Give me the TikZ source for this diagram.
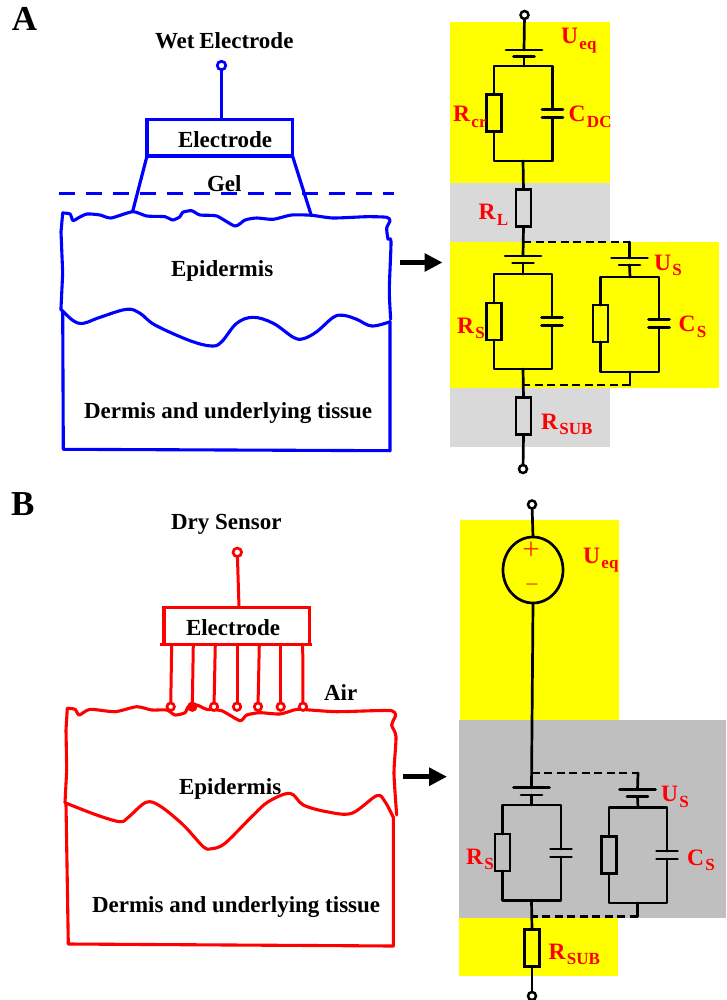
\documentclass[tikz,border=0pt]{standalone}
\usepackage{fontspec}
\setmainfont{Liberation Serif}
\usetikzlibrary{arrows.meta,shapes.geometric}
\definecolor{lgrey}{HTML}{D9D9D9}
\definecolor{mgrey}{HTML}{BFBFBF}
\definecolor{signred}{HTML}{FF3300}
\definecolor{pyellow}{HTML}{FFFF00}
\definecolor{pblue}{HTML}{0000FF}
\definecolor{pred}{HTML}{FF0000}
\tikzset{
  wire/.style={draw=black,line width=2.7pt,line join=round,line cap=round},
  dashwire/.style={draw=black,line width=2.7pt,dash pattern=on 8pt off 4.5pt},
  resbox/.style={draw=black,line width=2.7pt,rectangle,minimum width=15pt,minimum height=37pt,inner sep=0pt,outer sep=0pt},
  blackterm/.style={draw=black,fill=white,line width=2.5pt,circle,minimum size=8pt,inner sep=0pt,outer sep=0pt},
  skin/.style={line width=3.1pt,line join=round,line cap=round},
  bluel/.style={skin,draw=pblue},
  redl/.style={skin,draw=pred},
  colterm/.style={fill=white,line width=2.7pt,circle,minimum size=8.5pt,inner sep=0pt,outer sep=0pt},
  tag/.style={anchor=base west,inner sep=0pt,outer sep=0pt,font=\fontsize{23}{23}\selectfont\bfseries,text=black},
  panel/.style={anchor=base west,inner sep=0pt,outer sep=0pt,font=\fontsize{35}{35}\selectfont\bfseries,text=black},
  elab/.style={anchor=base west,inner sep=0pt,outer sep=0pt,font=\fontsize{23.5}{23.5}\selectfont\bfseries,text=pred},
  sign/.style={inner sep=0pt,outer sep=0pt,font=\fontsize{31}{31}\selectfont,text=signred},
  bigarrow/.style={draw=black,line width=5.5pt,-{Triangle[length=18pt,width=17.5pt]}}
}
% sub: subscript of a red label
\newcommand{\sbs}[1]{\kern1.5pt\raisebox{-5.5pt}{\fontsize{17}{17}\selectfont #1}}
% battery: name, x, y of long plate, y of short plate
\newcommand{\batt}[4]{%
  \coordinate (#1a) at (#2,#3); \coordinate (#1b) at (#2,#4);
  \draw[wire] (#2-18,#3) -- (#2+18,#3);
  \draw[wire] (#2-10.5,#4) -- (#2+10.5,#4);
}
% RC cell: name, xL, xR, yTop, yBottom, yRes, yCap
\newcommand{\rccell}[7]{%
  \node[resbox] (#1R) at (#2,#6) {};
  \coordinate (#1TL) at (#2,#4); \coordinate (#1TR) at (#3,#4);
  \coordinate (#1BL) at (#2,#5); \coordinate (#1BR) at (#3,#5);
  \coordinate (#1CT) at (#3,#7-4); \coordinate (#1CB) at (#3,#7+4);
  \draw[wire] (#1R.north) -- (#1TL) -- (#1TR) -- (#1CT);
  \draw[wire] (#1R.south) -- (#1BL) -- (#1BR) -- (#1CB);
  \draw[wire] (#3-10.5,#7-4) -- (#3+10.5,#7-4);
  \draw[wire] (#3-10.5,#7+4) -- (#3+10.5,#7+4);
}
\begin{document}
\begin{tikzpicture}[x=1pt,y=-1pt]
\useasboundingbox (0,0) rectangle (726,1000);
% backgrounds
\fill[pyellow] (450,22) rectangle (610,183);
\fill[lgrey] (450,183) rectangle (610,241.5);
\fill[lgrey] (450,387.5) rectangle (610,447);
\fill[pyellow] (450,241.5) rectangle (719,387.5);
\fill[pyellow] (459.5,519.5) rectangle (619,720);
\fill[mgrey] (458.5,720) rectangle (726,918);
\fill[pyellow] (458.5,918) rectangle (618,976);

% ===== panel A, left
\node[panel] (lblA) at (12,31) {A};
\node[tag] (wet) at (155,48.5) {Wet\kern-1pt\ Electrode};
\node[colterm,draw=pblue] (wt) at (221.5,65.5) {};
\node[draw=pblue,line width=3.2pt,rectangle,minimum width=145.5pt,minimum height=36.5pt,inner sep=0pt,outer sep=0pt] (welec) at (219.75,137.75) {};
\coordinate (wtop) at (221.5,119.5);
\draw[pblue,line width=3pt] (wt) -- (wtop);
\node[tag] (welect) at (178,147.5) {Electrode};
\coordinate (gl) at (132.5,212); \coordinate (gr) at (311,214.5);
\draw[pblue,line width=3.2pt] (welec.south west) -- (gl);
\draw[pblue,line width=3.2pt] (welec.south east) -- (gr);
\coordinate (dl) at (59,193.5); \coordinate (dr) at (394,193.5);
\draw[pblue,line width=3.2pt,dash pattern=on 16pt off 11pt] (dl) -- (dr);
\node[tag] (gel) at (207,191.5) {Gel};
% skin surface and sides
\draw[bluel] (62.7,213) -- (61,232) -- (62.7,273) -- (60.9,310);
\draw[bluel] plot[smooth,tension=.4] coordinates {(62.7,213) (70,214) (73,220.7) (78,218) (87,214) (100,215) (111,218) (132.7,211.7) (146.7,216) (165,216.7) (172.7,220) (180,216.7) (182.7,212.3) (191.7,210.7) (200,215) (216.7,216) (235,226) (245,220) (256.7,218) (273,219.3) (291.7,215) (311.7,215.3) (333,218) (366.7,216.7) (386.7,217.3) (390,220.7) (386.7,228) (388,239) (391,241.7) (389.3,290) (390.7,319.3)};
\draw[bluel] plot[smooth,tension=.6] coordinates {(61.7,310) (73.3,320.7) (83.3,323.3) (100,317.3) (126.7,309.3) (140,313.3) (155,325) (190,340.7) (211.7,346) (221.7,341.7) (236.7,323.3) (253.3,317.3) (273.3,323.3) (293.3,337.3) (303.3,338.7) (316.7,331.7) (333.3,317.3) (343.3,315.3) (356.7,319.3) (371.7,326) (390,321.7)};
\draw[bluel] (62.7,311.7) -- (63.3,449.3) -- (390,450.7) -- (390,321.7);
\node[tag] (wepi) at (171,276) {Epidermis};
\node[tag] (wder) at (84,418.5) {Dermis and underlying tissue};
\coordinate (a1s) at (400,262.5); \coordinate (a1e) at (442.5,262.5);
\draw[bigarrow] (a1s) -- (a1e);

% ===== panel A, circuit
\node[blackterm] (t1) at (524.5,15) {};
\batt{b1}{524}{50}{56.5}
\draw[wire] (t1) -- (b1a);
\rccell{c1}{494}{552.5}{66}{161}{113}{113.5}
\coordinate (c1t) at (524,66); \coordinate (c1b) at (523,161);
\draw[wire] (b1b) -- (c1t);
\node[resbox] (rl) at (523.5,208.3) {};
\draw[wire] (c1b) -- (rl.north);
\batt{b2}{523}{256}{263}
\draw[wire] (rl.south) -- (b2a);
\rccell{c2}{494}{552}{274}{369}{321.5}{321.5}
\coordinate (c2t) at (523,274); \coordinate (c2b) at (523,369);
\draw[wire] (b2b) -- (c2t);
\coordinate (j2t) at (523,242);\coordinate (k2t) at (629.5,242);
\draw[dashwire] (j2t) -- (k2t);
\batt{b3}{629.5}{258}{265}
\draw[wire] (k2t) -- (b3a);
\rccell{c3}{600.5}{659}{277}{372}{323.5}{323.5}
\coordinate (c3t) at (630,277); \coordinate (c3b) at (630,372);
\draw[wire] (b3b) -- (c3t);
\coordinate (k2b) at (630,385); \coordinate (j2b) at (523,385);
\draw[wire] (c3b) -- (k2b);
\draw[dashwire] (k2b) -- (j2b);
\node[resbox] (rs1) at (523.5,416.3) {};
\draw[wire] (c2b) -- (rs1.north);
\node[blackterm] (t2) at (523,469) {};
\draw[wire] (rs1.south) -- (t2);
\node[elab] (l1) at (561,44) {U\sbs{eq}};
\node[elab] (l2) at (453,121.7) {R\sbs{cr}};
\node[elab] (l3) at (568.5,122) {C\sbs{DC}};
\node[elab] (l4) at (478.5,220) {R\sbs{L}};
\node[elab] (l5) at (457,333) {R\sbs{S}};
\node[elab] (l6) at (654,270) {U\sbs{S}};
\node[elab] (l7) at (678.5,331.7) {C\sbs{S}};
\node[elab] (l8) at (541,429) {R\sbs{SUB}};

% ===== panel B, left
\node[panel] (lblB) at (11,515) {B};
\node[tag] (dry) at (171,529) {Dry Sensor};
\node[colterm,draw=pred] (dt) at (237.3,552.3) {};
\node[draw=pred,line width=3.2pt,rectangle,minimum width=145.3pt,minimum height=37pt,inner sep=0pt,outer sep=0pt] (delec) at (236.65,625.8) {};
\coordinate (dtop) at (239,607.3);
\draw[pred,line width=3pt] (dt) -- (dtop);
\coordinate (bl) at (160,644.3); \coordinate (br) at (311.7,644.3);
\draw[pred,line width=3.2pt] (bl) -- (br);
\node[tag] (delect) at (186,635) {Electrode};
\draw[redl] (67.3,708.3) -- (66,730) -- (66.7,770) -- (65,802.7);
\draw[redl] plot[smooth,tension=.4] coordinates {(67.3,708.3) (75,709.3) (79.3,715) (90,709.3) (115,711.7) (136.7,706.7) (151.7,710) (166.7,710) (175,715) (185,712.7) (188.3,706.7) (196.7,705) (206.7,709.3) (221.7,710.7) (240,720.7) (246.7,715) (260,712.7) (280,714) (296.7,709.3) (310,710) (336.7,711.7) (373.3,710.7) (391.7,710.7) (395.7,715) (391.7,725) (396,736.7) (394,773.3) (396.7,815)};
\foreach \nm/\px/\cx/\fl in {p1/171.7/170.7/white,p2/193.3/192.3/pred,p3/215.3/214/white,p4/237/237/white,p5/259.3/258/white,p6/280.7/280.7/white,p7/302.7/303/white}{
  \coordinate (\nm t) at (\px,644.3);
  \node[circle,draw=pred,fill=\fl,line width=2.7pt,minimum size=7.5pt,inner sep=0pt,outer sep=0pt] (\nm) at (\cx,706.7) {};
  \draw[pred,line width=3pt] (\nm t) -- (\nm);
}
\draw[redl] plot[smooth,tension=.55] coordinates {(65,802.7) (96.7,815) (120,821.7) (128.3,817.3) (146,802.3) (160,806) (183.3,825) (203.3,846.7) (211.7,848.7) (225,843.3) (251.7,816.7) (268.3,801.7) (290,793.3) (303.3,805) (326.7,811.7) (351.7,813.3) (376.7,795.7) (385,801.7) (393.3,817.3)};
\draw[redl] (66,804) -- (68.3,944) -- (393.3,946) -- (393.3,816.7);
\node[tag] (air) at (324,700.5) {Air};
\node[tag] (depi) at (179,794.5) {Epidermis};
\node[tag] (dder) at (92,912.5) {Dermis and underlying tissue};
\coordinate (a2s) at (403,776.7); \coordinate (a2e) at (447,776.7);
\draw[bigarrow] (a2s) -- (a2e);

% ===== panel B, circuit
\node[blackterm] (t3) at (532,504.5) {};
\node[draw=black,line width=2.7pt,ellipse,minimum width=60pt,minimum height=66pt,inner sep=0pt,outer sep=0pt] (src) at (533,570) {};
\draw[wire] (t3) -- (src.north);
\node[sign] (plus) at (531,551) {+};
\node[sign,font=\fontsize{24}{24}\selectfont] (minus) at (532,588) {−};
\batt{b4}{531.5}{787.7}{795}
\draw[wire] (src.south) -- (b4a);
\rccell{c4}{502.5}{561}{805}{900.5}{852.5}{853}
\coordinate (c4t) at (531.5,805); \coordinate (c4b) at (531.5,900.5);
\draw[wire] (b4b) -- (c4t);
\coordinate (j4t) at (531.5,773);\coordinate (k4t) at (638,773);
\draw[dashwire] (j4t) -- (k4t);
\batt{b5}{637.5}{789.7}{796.5}
\draw[wire] (k4t) -- (b5a);
\rccell{c5}{609}{667}{807.5}{903}{854.7}{855}
\coordinate (c5t) at (638,807.5); \coordinate (c5b) at (637.5,903);
\draw[wire] (b5b) -- (c5t);
\coordinate (k4b) at (637.5,916.5); \coordinate (j4b) at (531.5,916.5);
\draw[wire] (c5b) -- (k4b);
\draw[dashwire] (k4b) -- (j4b);
\node[resbox] (rs2) at (532,948) {};
\draw[wire] (c4b) -- (rs2.north);
\node[blackterm] (t4) at (532,996) {};
\draw[wire] (rs2.south) -- (t4);
\node[elab] (m1) at (583,563) {U\sbs{eq}};
\node[elab] (m2) at (661,801.7) {U\sbs{S}};
\node[elab] (m3) at (466,864) {R\sbs{S}};
\node[elab] (m4) at (687,865) {C\sbs{S}};
\node[elab] (m5) at (548.5,959) {R\sbs{SUB}};
\end{tikzpicture}
\end{document}
